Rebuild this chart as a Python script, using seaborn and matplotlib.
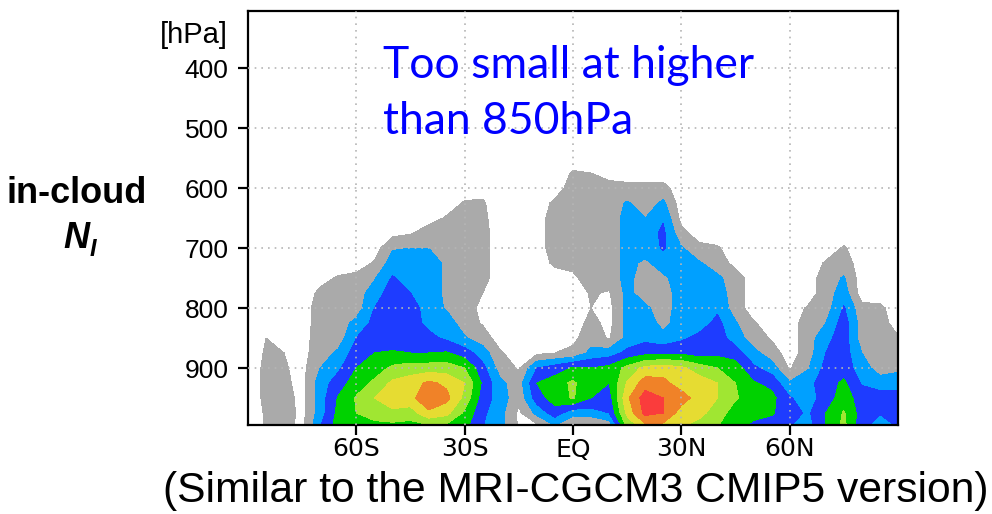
import numpy as np
import seaborn as sns
import matplotlib.pyplot as plt

# latitude / pressure grid
lats = [-90, -85, -80, -75, -70, -65, -60, -55, -50, -45, -40, -35, -30,
        -25, -20, -15, -10, -5, 0, 5, 10, 15, 20, 25, 30, 35, 40, 45, 50,
        55, 60, 65, 70, 75, 80, 85, 90]
plevs = [1000, 975, 950, 925, 900, 875, 850, 825, 800, 775, 750, 725,
         700, 675, 650, 625, 600, 575, 550]

# shading class at each grid point (0 = none, 1 = gray ... 8 = red),
# one row per latitude, values from 1000 hPa upward
ni_class = [
    [0, 0, 0, 0, 0, 0, 0, 0, 0, 0, 0, 0, 0, 0, 0, 0, 0, 0, 0],                # 90S
    [0.6, 0.6, 0.7, 0.7, 0.7, 0.6, 0.5, 0.3, 0, 0, 0, 0, 0, 0, 0, 0, 0, 0, 0],
    [0.9, 1, 0.9, 0.7, 0.6, 0.5, 0.4, 0.2, 0, 0, 0, 0, 0, 0, 0, 0, 0, 0, 0],
    [0.2, 0.2, 0.2, 0.2, 0.2, 0.2, 0.1, 0, 0, 0, 0, 0, 0, 0, 0, 0, 0, 0, 0],
    [2.5, 2, 2, 2, 1.5, 1, 1, 1, 1, 0.7, 0.2, 0, 0, 0, 0, 0, 0, 0, 0],
    [4, 3.8, 3.6, 3, 2.3, 1.7, 1, 1, 1, 1, 0.6, 0, 0, 0, 0, 0, 0, 0, 0],
    [4, 4.5, 4.6, 4, 3.5, 3, 2.5, 1.8, 1, 1, 0.8, 0, 0, 0, 0, 0, 0, 0, 0],   # 60S
    [4, 5, 5.5, 4.7, 4, 3.5, 3, 2.8, 2.5, 2, 1.4, 0.6, 0, 0, 0, 0, 0, 0, 0],
    [4, 5.3, 6, 5.7, 4.7, 3.6, 3, 3, 3, 3, 2.6, 2, 1.4, 0.2, 0, 0, 0, 0, 0],
    [4, 5, 6.2, 6, 5, 3.5, 3, 3, 3, 2.5, 2, 2, 1.5, 0.4, 0, 0, 0, 0, 0],
    [4, 6.3, 7.3, 6.7, 5, 3.5, 2.8, 2.2, 2, 2, 2, 2, 1.5, 1, 0.1, 0, 0, 0, 0],
    [4, 5.8, 6.8, 6.3, 5, 3.6, 2.3, 2, 1.4, 1.3, 1.3, 1.3, 1, 1, 0.6, 0, 0, 0, 0],
    [3.7, 4.3, 5.2, 5.5, 4.5, 3, 1.6, 1, 1, 1, 1, 1, 1, 1, 1, 0.6, 0, 0, 0],  # 30S
    [2.5, 2.7, 3, 3.3, 2.8, 2, 1, 0.4, 0.2, 0.5, 0.8, 0.8, 0.8, 0.8, 0.7, 0.6, 0.2, 0, 0],
    [1.8, 1.8, 2, 1.7, 1, 0.6, 0, 0, 0, 0, 0, 0, 0, 0, 0, 0, 0, 0, 0],
    [0.4, 0.3, 0.8, 1, 0.4, 0, 0, 0, 0, 0, 0, 0, 0, 0, 0, 0, 0, 0, 0],
    [0, 1.8, 3, 3.5, 2.5, 0.3, 0, 0, 0, 0, 0, 0, 0, 0, 0, 0, 0, 0, 0],
    [1.2, 3, 4, 4, 3, 0.5, 0, 0, 0, 0, 0, 0.7, 1, 1, 1, 0.7, 0, 0, 0],
    [0.5, 1.8, 4.6, 4.7, 3.6, 0.7, 0.3, 0, 0, 0, 0.3, 0.8, 1, 1, 1, 1, 1, 0.6, 0],  # EQ
    [0, 2, 3.5, 3.6, 3.5, 1.8, 1, 0.8, 0.5, 0.6, 1, 1, 1, 1, 1, 1, 1, 0.5, 0],
    [0.5, 2.5, 3, 3.5, 3.8, 2, 0.4, 0.2, 0.2, 0.4, 1, 1, 1, 1, 1, 1, 0.8, 0.2, 0],
    [4.5, 5.8, 6.3, 5.6, 4.8, 2.8, 1.8, 1.8, 1.8, 1.8, 1.8, 1.8, 1.8, 1.8, 1.8, 1.6, 0.8, 0, 0],
    [6, 7.8, 8, 7, 5.8, 3.2, 2.2, 2, 1.7, 1, 1, 1.3, 2, 2, 1.5, 1, 0.8, 0, 0],
    [6, 7.5, 7.5, 6.8, 6, 3.3, 1.8, 1.2, 1, 1, 1.3, 2, 2.6, 2.7, 2.4, 1.7, 0.8, 0, 0],
    [5.5, 6, 7, 6, 5.7, 3.3, 2.3, 2, 2, 2, 2, 2, 1.6, 0.8, 0.2, 0, 0, 0, 0],  # 30N
    [5, 5.8, 6, 6, 5, 3, 2.8, 2, 2, 2, 2, 1.6, 0.8, 0, 0, 0, 0, 0, 0],
    [4.5, 5, 5.5, 5.5, 4.5, 3.2, 3, 2.8, 2.3, 2, 1.7, 1, 0.6, 0, 0, 0, 0, 0, 0],
    [3.8, 4, 4.6, 4.5, 4, 3, 2, 1.6, 1, 1, 1, 0.2, 0, 0, 0, 0, 0, 0, 0],
    [3, 4, 4, 3.6, 2.7, 1.8, 1, 0.6, 0, 0, 0, 0, 0, 0, 0, 0, 0, 0, 0],
    [3, 3.6, 3.8, 3.2, 2, 1, 0.4, 0, 0, 0, 0, 0, 0, 0, 0, 0, 0, 0, 0],
    [2.5, 3, 2.6, 1.6, 0.4, 0, 0, 0, 0, 0, 0, 0, 0, 0, 0, 0, 0, 0, 0],       # 60N
    [2, 2.3, 2, 2.2, 1.4, 1, 1, 1, 0.6, 0, 0, 0, 0, 0, 0, 0, 0, 0, 0],
    [3.5, 3.5, 3, 3, 2.8, 2.5, 2.2, 1.5, 1, 1, 1, 0.6, 0, 0, 0, 0, 0, 0, 0],
    [4.8, 4.6, 4, 3.7, 3, 3, 3, 3, 2.6, 2, 1.6, 1, 0.6, 0, 0, 0, 0, 0, 0],
    [2.8, 3, 3, 2.4, 2, 1.5, 1, 1, 0.8, 0, 0, 0, 0, 0, 0, 0, 0, 0, 0],
    [1.5, 2.6, 3, 2, 1, 1, 1, 1, 0.7, 0, 0, 0, 0, 0, 0, 0, 0, 0, 0],
    [2.5, 3, 3, 2, 1.3, 1, 0.6, 0, 0, 0, 0, 0, 0, 0, 0, 0, 0, 0, 0],         # 90N
]

class_edges = [0.5, 1.5, 2.5, 3.5, 4.5, 5.5, 6.5, 7.5, 8.5]
class_colors = ["#aaaaaa", "#00a0ff", "#1e3cff", "#00d200",
                "#a0e632", "#e6dc32", "#f08228", "#fa3c3c"]

lat_ticks = [-60, -30, 0, 30, 60]
lat_labels = ["60S", "30S", "EQ", "30N", "60N"]
p_ticks = [400, 500, 600, 700, 800, 900]

sns.set_theme(style="ticks")
plt.rcParams['font.family'] = ['Liberation Sans', 'DejaVu Sans']

fig = plt.figure(figsize=(9.92, 5.14), dpi=100)
ax = fig.add_axes([248 / 992, 1 - 425 / 514, 650 / 992, 414 / 514])

field = np.array(ni_class).T
ax.contourf(lats, plevs, field, levels=class_edges,
            colors=sns.color_palette(class_colors))

ax.set_xlim(-90, 90)
ax.set_ylim(995, 305)
ax.set_xticks(lat_ticks)
ax.set_xticklabels(lat_labels, fontsize=18, family=['DejaVu Sans'])
ax.set_yticks(p_ticks)
ax.set_yticklabels([str(p) for p in p_ticks], fontsize=19)
ax.tick_params(axis='both', direction='out', length=7, width=1.6,
               color='black', labelcolor='black')
ax.tick_params(axis='x', pad=2)
ax.tick_params(axis='y', pad=7)
ax.set_xlabel("")
ax.set_ylabel("")

ax.grid(True, linestyle=(0, (1, 3)), color='#b5b5b5', linewidth=1.2)
ax.set_axisbelow(False)
for side in ax.spines.values():
    side.set_color('black')
    side.set_linewidth(1.6)

# labels outside the axes
fig.text(228 / 992, 1 - 35 / 514, "[hPa]", fontsize=21,
         ha='right', va='center', color='black')
fig.text(77 / 992, 1 - 203 / 514, "in-cloud", fontsize=26,
         fontweight='bold', ha='center', va='baseline', color='black')
fig.text(63 / 992, 1 - 248 / 514, "N", fontsize=26, fontweight='bold',
         fontstyle='italic', ha='left', va='baseline', color='black')
fig.text(90 / 992, 1 - 256 / 514, "I", fontsize=17, fontweight='bold',
         fontstyle='italic', ha='left', va='baseline', color='black')

fig.text(383 / 992, 1 - 78 / 514, "Too small at higher", fontsize=32,
         family=['Lato', 'DejaVu Sans'], color='#0000ff',
         ha='left', va='baseline')
fig.text(383 / 992, 1 - 134 / 514, "than 850hPa", fontsize=32,
         family=['Lato', 'DejaVu Sans'], color='#0000ff',
         ha='left', va='baseline')

fig.text(576 / 992, 1 - 502 / 514, "(Similar to the MRI-CGCM3 CMIP5 version)",
         fontsize=30.7, ha='center', va='baseline', color='black')

fig.savefig("out.png", dpi=100)
